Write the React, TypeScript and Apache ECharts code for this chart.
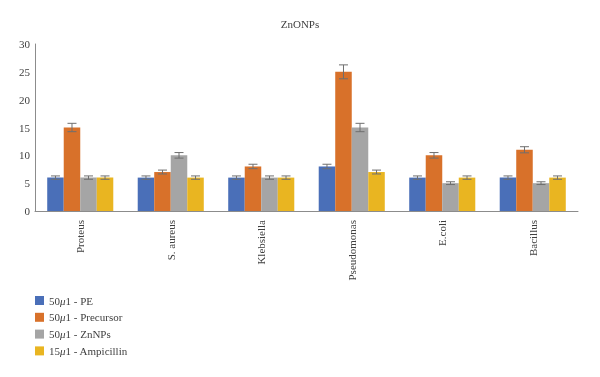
import React, { useEffect, useRef } from "react";
import * as echarts from "echarts";

const categories = ["Proteus", "S. aureus", "Klebsiella", "Pseudomonas", "E.coli", "Bacillus"];
const seriesNames = ["50μ1 - PE", "50μ1 - Precursor", "50μ1 - ZnNPs", "15μ1 - Ampicillin"];
const pe = [6, 6, 6, 8, 6, 6];
const precursor = [15, 7, 8, 25, 10, 11];
const znnps = [6, 10, 6, 15, 5, 5];
const ampicillin = [6, 6, 6, 7, 6, 6];
const peErr = [0.3, 0.3, 0.3, 0.4, 0.3, 0.3];
const precursorErr = [0.75, 0.35, 0.4, 1.25, 0.5, 0.55];
const znnpsErr = [0.3, 0.5, 0.3, 0.75, 0.25, 0.25];
const ampicillinErr = [0.3, 0.3, 0.3, 0.35, 0.3, 0.3];

const colors = ["#4a6fb8", "#d8712a", "#a5a5a5", "#e9b521"];
const FONT = "'Liberation Serif', serif";
const CAT_GAP = 0.27;

export default function App() {
  const ref = useRef<HTMLDivElement>(null);
  useEffect(() => {
    if (!ref.current) return;
    const chart = echarts.init(ref.current, undefined, { renderer: "svg" });
    const values = [pe, precursor, znnps, ampicillin];
    const errs = [peErr, precursorErr, znnpsErr, ampicillinErr];
    const barSeries = values.map((v, i) => ({
      type: "bar",
      name: seriesNames[i],
      data: v,
      barGap: "0%",
      barCategoryGap: "27%",
      itemStyle: { color: colors[i] },
    }));
    const errSeries = values.map((v, i) => ({
      type: "custom",
      name: seriesNames[i] + " err",
      data: v.map((val, j) => [j, val, errs[i][j]]),
      z: 10,
      renderItem: (params: any, api: any) => {
        const x = api.value(0);
        const val = api.value(1);
        const e = api.value(2);
        const bandW = api.size([1, 0])[0];
        const bw = (bandW * (1 - CAT_GAP)) / 4;
        const top = api.coord([x, val + e]);
        const bot = api.coord([x, val - e]);
        const cx = top[0] + (i - 1.5) * bw;
        const half = 4.5;
        const style = { stroke: "#6f6f6f", lineWidth: 1 };
        return {
          type: "group",
          children: [
            { type: "line", shape: { x1: cx, y1: top[1], x2: cx, y2: bot[1] }, style },
            { type: "line", shape: { x1: cx - half, y1: top[1], x2: cx + half, y2: top[1] }, style },
            { type: "line", shape: { x1: cx - half, y1: bot[1], x2: cx + half, y2: bot[1] }, style },
          ],
        };
      },
    }));
    const txt = { fontFamily: FONT, fontSize: 11, color: "#404040" };
    chart.setOption({
      animation: false,
      textStyle: { fontFamily: FONT },
      title: {
        text: "ZnONPs",
        left: "center",
        top: 13,
        textStyle: { ...txt, fontWeight: "normal" },
      },
      legend: {
        data: seriesNames,
        orient: "vertical",
        left: 30,
        top: 290,
        itemWidth: 9,
        itemHeight: 9,
        itemGap: 5.8,
        icon: "rect",
        textStyle: {
          ...txt,
          rich: {
            n: { ...txt },
            i: { ...txt, fontStyle: "italic" },
          },
        },
        formatter: (name: string) => {
          const idx = name.indexOf("μ");
          return "{n|" + name.slice(0, idx) + "}{i|μ}{n|" + name.slice(idx + 1) + "}";
        },
      },
      grid: { left: 35, right: 22, top: 44, bottom: 166, containLabel: false },
      xAxis: {
        type: "category",
        data: categories,
        axisLine: { lineStyle: { color: "#8c8c8c", width: 1 } },
        axisTick: { show: false },
        axisLabel: { ...txt, rotate: 90, interval: 0, margin: 9 },
      },
      yAxis: {
        type: "value",
        min: 0,
        max: 30,
        interval: 5,
        axisLine: { show: true, lineStyle: { color: "#8c8c8c", width: 1 } },
        axisTick: { show: false },
        splitLine: { show: false },
        axisLabel: { ...txt, margin: 5 },
      },
      series: [...barSeries, ...errSeries],
    });
    return () => chart.dispose();
  }, []);
  return (
    <div
      ref={ref}
      style={{ position: "fixed", left: 0, top: 0, width: 600, height: 377 }}
    />
  );
}
